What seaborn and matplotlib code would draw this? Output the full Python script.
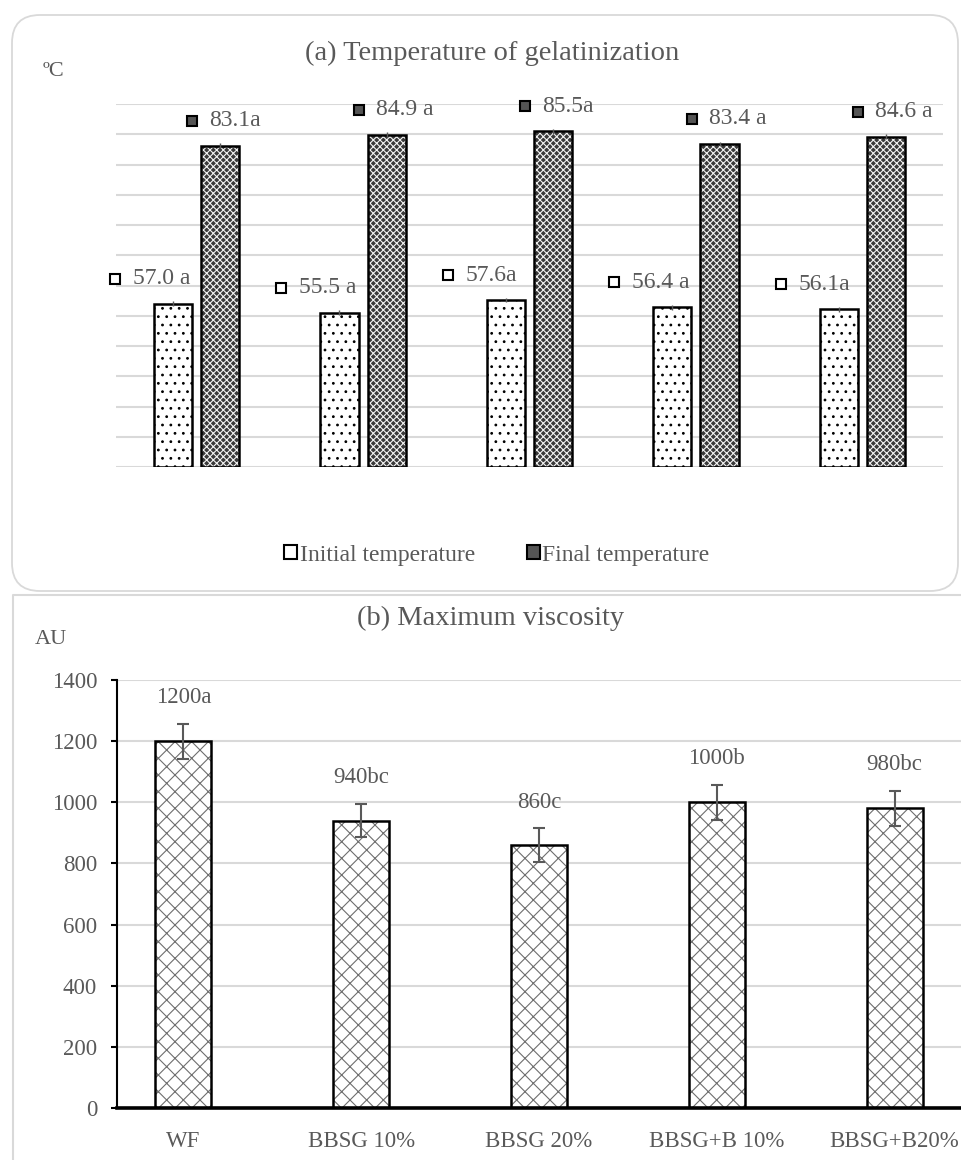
import matplotlib
matplotlib.use("Agg")
import matplotlib.pyplot as plt
import numpy as np
import pandas as pd
import seaborn as sns
from matplotlib.patches import Rectangle, FancyBboxPatch, Patch
from matplotlib.transforms import offset_copy

samples = ["WF", "BBSG 10%", "BBSG 20%", "BBSG+B 10%", "BBSG+B20%"]
series_names = ["Initial temperature", "Final temperature"]

# (a) temperature of gelatinization, degC
t_initial = [57.0, 55.5, 57.6, 56.4, 56.1]
t_final = [83.1, 84.9, 85.5, 83.4, 84.6]
t_initial_err = [0.4, 0.4, 0.4, 0.4, 0.4]
t_final_err = [0.4, 0.4, 0.4, 0.4, 0.4]
lab_initial = ["57.0 a", "55.5 a", "57.6a", "56.4 a", "56.1a"]
lab_final = ["83.1a", "84.9 a", "85.5a", "83.4 a", "84.6 a"]

# (b) maximum viscosity, AU
visc = [1200, 940, 860, 1000, 980]
visc_err = [57, 55, 55, 57, 57]
visc_lab = ["1200a", "940bc", "860c", "1000b", "980bc"]

sns.set_style("white")
plt.rcParams["font.family"] = ["Liberation Serif", "DejaVu Serif"]
plt.rcParams["hatch.linewidth"] = 0.8
GRAY = "#595959"
GRID = "#d9d9d9"
DARK = "#3a3a3a"
FS = 17

fig = plt.figure(figsize=(9.61, 11.6), dpi=100)

# background layer in pixel coordinates for panel frames and free text
bg = fig.add_axes([0, 0, 1, 1], zorder=-5)
bg.set_xlim(0, 961)
bg.set_ylim(1160, 0)
bg.axis("off")
bg.add_patch(FancyBboxPatch((12, 15), 946, 576, boxstyle="round,pad=0,rounding_size=28",
                            fill=False, ec=GRID, lw=1.3))
bg.plot([13, 13, 961], [1160, 595, 595], color=GRID, lw=1.5)
bg.text(492, 53, "(a) Temperature of gelatinization", ha="center", va="center", fontsize=20.5, color=GRAY)
bg.text(43, 72, "ºC", ha="left", va="center", fontsize=FS - 1, color=GRAY)
bg.text(491, 618, "(b) Maximum viscosity", ha="center", va="center", fontsize=20.5, color=GRAY)
bg.text(35, 640, "AU", ha="left", va="center", fontsize=FS - 1, color=GRAY)

# ---- panel (a)
ax1 = fig.add_axes([116 / 961, 1 - 467 / 1160, 827 / 961, 363 / 1160])
ax1.set_facecolor("none")
df_a = pd.DataFrame({
    "sample": samples * 2,
    "series": [series_names[0]] * len(samples) + [series_names[1]] * len(samples),
    "temp": t_initial + t_final,
})
sns.barplot(data=df_a, x="sample", y="temp", hue="series", palette=["white", DARK],
            saturation=1, width=0.57, gap=0.19, errorbar=None, legend=False, ax=ax1)
ax1.set_ylim(30, 90)

bars = list(ax1.patches)
n = len(samples)
for i, p in enumerate(bars):
    if i < n:
        p.set_hatch("..")
        p.set_edgecolor("black")
    else:
        p.set_hatch("xxxxx")
        p.set_edgecolor("#f2f2f2")
    p.set_linewidth(0)
    ax1.add_patch(Rectangle((p.get_x(), 30), p.get_width(), p.get_height() - 30,
                            fill=False, ec="black", lw=1.8, zorder=3))

cx_init = [p.get_x() + p.get_width() / 2 for p in bars[:n]]
cx_fin = [p.get_x() + p.get_width() / 2 for p in bars[n:]]
ax1.errorbar(cx_init, t_initial, yerr=t_initial_err, fmt="none", ecolor=GRAY, elinewidth=1, capsize=0, zorder=4)
ax1.errorbar(cx_fin, t_final, yerr=t_final_err, fmt="none", ecolor=GRAY, elinewidth=1, capsize=0, zorder=4)

tr_mi = offset_copy(ax1.transData, fig=fig, x=-58, y=25, units="dots")
tr_mf = offset_copy(ax1.transData, fig=fig, x=-28, y=25, units="dots")
ax1.plot(cx_init, t_initial, ls="none", marker="s", ms=7.5, mfc="white", mec="black", mew=1.5,
         transform=tr_mi, clip_on=False)
ax1.plot(cx_fin, t_final, ls="none", marker="s", ms=7.5, mfc="#555555", mec="black", mew=1.5,
         transform=tr_mf, clip_on=False)
for x, v, s in zip(cx_init, t_initial, lab_initial):
    ax1.annotate(s, xy=(x, v), xytext=(-40, 25), textcoords="offset pixels",
                 ha="left", va="center", fontsize=FS, color=GRAY)
for x, v, s in zip(cx_fin, t_final, lab_final):
    ax1.annotate(s, xy=(x, v), xytext=(-11, 25), textcoords="offset pixels",
                 ha="left", va="center", fontsize=FS, color=GRAY)

ax1.set_yticks(np.arange(30, 91, 5))
ax1.yaxis.grid(True, color=GRID, lw=1.5)
ax1.set_axisbelow(True)
ax1.tick_params(left=False, bottom=False, labelleft=False, labelbottom=False)
ax1.set_xlabel("")
ax1.set_ylabel("")
sns.despine(ax=ax1, left=True, bottom=True)

handles = [Patch(facecolor="white", edgecolor="black", lw=1.5),
           Patch(facecolor="#555555", edgecolor="black", lw=1.5)]
fig.legend(handles, series_names, loc="center", bbox_to_anchor=(497 / 961, 1 - 555 / 1160),
           ncol=2, frameon=False, handlelength=0.55, handleheight=0.55, handletextpad=0.1,
           columnspacing=2.2, fontsize=FS, labelcolor=GRAY)

# ---- panel (b)
ax2 = fig.add_axes([117 / 961, 1 - 1108 / 1160, 844 / 961, 428 / 1160])
ax2.set_facecolor("none")
df_b = pd.DataFrame({"sample": samples, "visc": visc})
sns.barplot(data=df_b, x="sample", y="visc", color="white", saturation=1, width=0.315,
            errorbar=None, ax=ax2)
for p in list(ax2.patches):
    p.set_hatch("xx")
    p.set_edgecolor("#6e6e6e")
    p.set_linewidth(0)
    ax2.add_patch(Rectangle((p.get_x(), 0), p.get_width(), p.get_height(),
                            fill=False, ec="black", lw=1.8, zorder=3))
cx_b = [p.get_x() + p.get_width() / 2 for p in ax2.patches[:n]]
ax2.errorbar(cx_b, visc, yerr=visc_err, fmt="none", ecolor=GRAY, elinewidth=1.5,
             capsize=4.5, capthick=1.5, zorder=4)
for x, v, e, s in zip(cx_b, visc, visc_err, visc_lab):
    ax2.annotate(s, xy=(x, v + e), xytext=(0, 26), textcoords="offset pixels",
                 ha="center", va="center", fontsize=FS - 0.5, color=GRAY)

ax2.set_ylim(0, 1400)
ax2.set_yticks(np.arange(0, 1401, 200))
ax2.yaxis.grid(True, color=GRID, lw=1.5)
ax2.set_axisbelow(True)
ax2.set_xlabel("")
ax2.set_ylabel("")
sns.despine(ax=ax2)
ax2.spines["left"].set_color("black")
ax2.spines["left"].set_linewidth(1.5)
ax2.spines["bottom"].set_color("black")
ax2.spines["bottom"].set_linewidth(2.6)
ax2.tick_params(axis="y", left=True, length=4.3, width=1.5, color="black", pad=10,
                labelsize=FS - 0.5, labelcolor=GRAY)
ax2.tick_params(axis="x", bottom=False, pad=13, labelsize=FS - 0.5, labelcolor=GRAY)

fig.savefig("out.png", dpi=100)
